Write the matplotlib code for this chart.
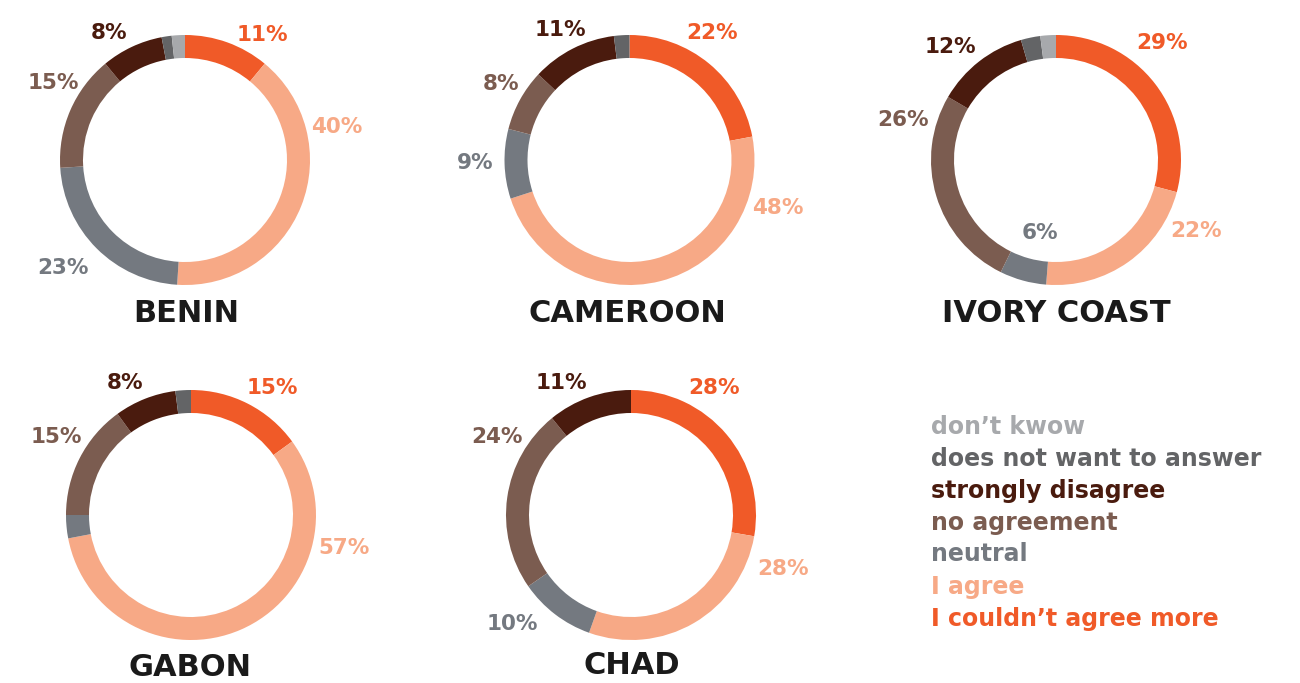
import matplotlib
matplotlib.use("Agg")
import matplotlib.pyplot as plt

# categories, in clockwise order from 12 o'clock
categories = ["I couldn’t agree more", "I agree", "neutral", "no agreement",
              "strongly disagree", "does not want to answer", "don’t kwow"]
colors = ["#F05A28", "#F7A986", "#747980", "#7B5C50", "#4A1B0E", "#636466", "#A7A9AC"]

countries = ["BENIN", "CAMEROON", "IVORY COAST", "GABON", "CHAD"]
benin = [11, 40, 23, 15, 8, 1.3, 1.7]
cameroon = [22, 48, 9, 8, 11, 2, 0]
ivory_coast = [29, 22, 6, 26, 12, 2.5, 2]
gabon = [15, 57, 3, 15, 8, 2, 0]
chad = [28, 28, 10, 24, 11, 0, 0]
values = [benin, cameroon, ivory_coast, gabon, chad]

# layout (pixel coordinates, y from top)
W, H = 1300, 683
centers = [(185, 160), (629.5, 160), (1056, 160), (191, 515), (631, 515)]
radius = 125
ring = 23
title_pos = [(186, 313), (627, 313), (1056, 313), (190, 668), (632, 666)]
label_pos = [
    [(262, 35), (337, 127), (63, 268), (53, 83), (109, 33)],
    [(712, 33), (778, 208), (475, 163), (501, 84), (560, 30)],
    [(1162, 43), (1196, 231), (1040, 233), (903, 120), (950, 47)],
    [(272, 388), (344, 548), None, (56, 437), (125, 383)],
    [(714, 388), (783, 569), (512, 624), (497, 437), (561, 383)],
]

fig = plt.figure(figsize=(W / 100, H / 100), dpi=100)
ax = fig.add_axes([0, 0, 1, 1])

for i, vals in enumerate(values):
    cx, cy = centers[i]
    ax.pie(vals, colors=colors, startangle=90, counterclock=False,
           radius=radius, center=(cx, H - cy),
           wedgeprops=dict(width=ring, linewidth=0))
    for j, pos in enumerate(label_pos[i]):
        if pos is None:
            continue
        ax.text(pos[0], H - pos[1], f"{vals[j]:.0f}%", color=colors[j],
                fontsize=15.5, fontweight="bold", ha="center", va="center")
    tx, ty = title_pos[i]
    ax.text(tx, H - ty, countries[i], color="#1A1A1A", fontsize=22,
            fontweight="bold", ha="center", va="center")

# legend as coloured text, top to bottom
legend_y = [427, 459, 491, 523, 554, 587, 619]
for k, name in enumerate(reversed(categories)):
    ax.text(931, H - legend_y[k], name, color=list(reversed(colors))[k],
            fontsize=17, fontweight="bold", ha="left", va="center")

ax.set_xlim(0, W)
ax.set_ylim(0, H)
ax.set_aspect("equal")
ax.axis("off")

fig.savefig("out.png", dpi=100, facecolor="white")
